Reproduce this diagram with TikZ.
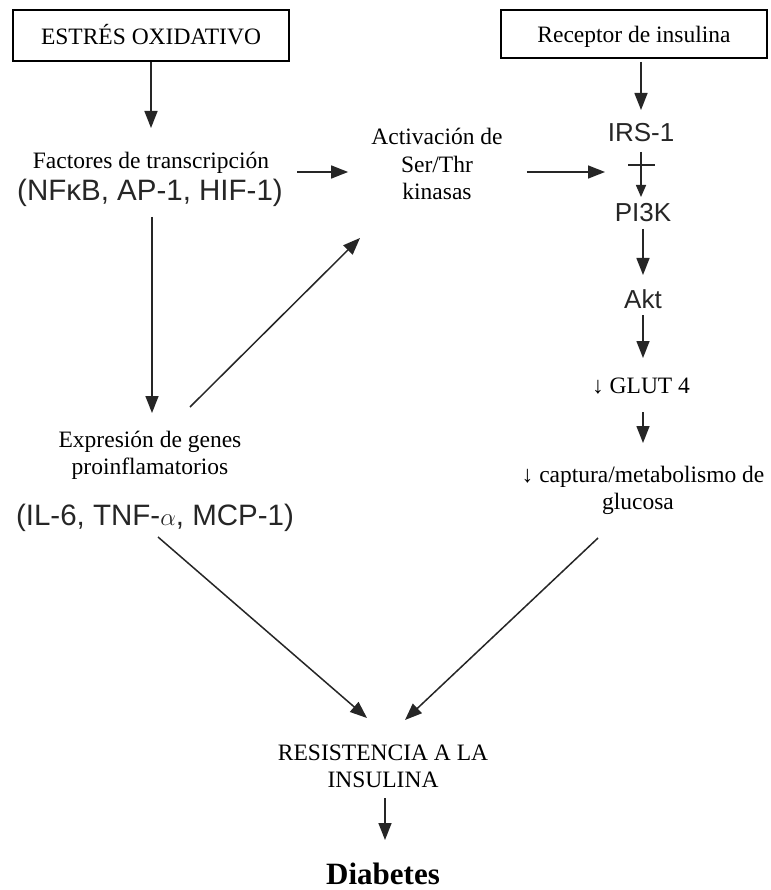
\documentclass[tikz,border=0pt]{standalone}
\usepackage{fontspec}
\setmainfont{Liberation Serif}
\newfontfamily\arialf{Liberation Sans}
\usetikzlibrary{arrows.meta,calc}
\begin{document}
\begin{tikzpicture}[x=1pt,y=-1pt,
  every node/.style={inner sep=0pt,outer sep=0pt},
  ser/.style={font=\fontsize{23.5}{28}\selectfont, text height=16pt, text depth=5pt, anchor=base},
  sansL/.style={font=\arialf\fontsize{29.5}{34}\selectfont, text=black!85, text height=21.5pt, text depth=6pt, anchor=base},
  sansR/.style={font=\arialf\fontsize{26}{30}\selectfont, text=black!85, text height=19pt, text depth=5pt, anchor=base},
  bold/.style={font=\fontsize{31}{36}\selectfont\bfseries, text height=21pt, text depth=0pt, anchor=base},
  bx/.style={draw=black, line width=1.5pt, font=\fontsize{23.5}{28}\selectfont},
  arr/.style={draw=black!85, line width=1.5pt, -{Triangle[length=17pt,width=13pt]}},
  arrs/.style={draw=black!85, line width=1.5pt, -{Triangle[length=12pt,width=10pt]}},
  bar/.style={draw=black!85, line width=1.5pt}
]
\useasboundingbox (0,0) rectangle (770,890);
\fill[white] (0,0) rectangle (770,890);

% boxes
\node[bx, minimum width=276pt, minimum height=51pt, text height=19pt, text depth=0pt] (estres) at (151,35.5) {ESTRÉS OXIDATIVO};
\node[bx, minimum width=266pt, minimum height=48pt, text height=18pt, text depth=0pt] (rec) at (634,34) {Receptor de insulina};

% left column
\node[ser] (fact) at (151,169) {Factores de transcripción};
\node[sansL] (nfkb) at (150,201) {(NFκB, AP-1, HIF-1)};
\node[ser] (exprA) at (150,447) {Expresión de genes};
\node[ser] (exprB) at (150,474) {proinflamatorios};
\node[sansL] (il6) at (155,525) {(IL-6, TNF-$\alpha$, MCP-1)};

% middle
\node[ser] (kinA) at (437,145) {Activación de};
\node[ser] (kinB) at (437,173) {Ser/Thr};
\node[ser] (kinC) at (437,200) {kinasas};

% right column
\node[sansR] (irs) at (641,142) {IRS-1};
\node[sansR] (pi3k) at (643,222) {PI3K};
\node[sansR] (akt) at (643,308) {Akt};
\node[ser] (glut) at (641,393) {↓ GLUT 4};
\node[ser] (capA) at (643,482) {↓ captura/metabolismo de};
\node[ser] (capB) at (638,509) {glucosa};

% bottom
\node[ser] (resA) at (383,760) {RESISTENCIA A LA};
\node[ser] (resB) at (383,787) {INSULINA};
\node[bold] (diab) at (383,884) {Diabetes};

% connectors
\draw[arr, shorten <=1pt, shorten >=25pt] (estres.south) -- (estres.south |- fact.north);
\draw[arr, shorten <=10pt, shorten >=18pt] ([xshift=2pt]nfkb.south) -- ([xshift=2pt]nfkb.south |- exprA.north);
\draw[arr] ([xshift=28pt,yshift=-8.5pt]fact.east) -- ([xshift=-53pt,yshift=-4.5pt]kinB.west);
\draw[arr] ([xshift=40pt,yshift=24pt]exprA.north) -- ([xshift=-77pt,yshift=-33pt]kinC.south);

\coordinate (inh) at (605,172);
\draw[arr] ([xshift=54pt,yshift=-4.5pt]kinB.east) -- (inh);

\draw[arr, shorten <=4pt, shorten >=13pt] (rec.south -| irs.north) -- (irs.north);
\draw[arrs, shorten <=5pt, shorten >=6pt] (irs.south) -- (irs.south |- pi3k.north);
\coordinate (barc) at ($(irs.south)!0.32!(irs.south |- pi3k.north)$);
\draw[bar] ([xshift=-13pt]barc) -- ([xshift=14pt]barc);
\draw[arr, shorten <=2pt, shorten >=14pt] (pi3k.south) -- (pi3k.south |- akt.north);
\draw[arr, shorten <=2pt, shorten >=19pt] (akt.south) -- (akt.south |- glut.north);
\draw[arr, shorten <=14pt, shorten >=23pt] (akt.south |- glut.south) -- (akt.south |- capA.north);

\draw[arr] ([xshift=-40pt,yshift=-24pt]capB.south) -- ([xshift=22pt,yshift=24pt]resA.north);
\draw[arr] ([xshift=3pt,yshift=-6pt]il6.south) -- ([xshift=-16pt,yshift=26pt]resA.north);
\draw[arr, shorten <=6pt, shorten >=23pt] ([xshift=2pt]resB.south) -- ([xshift=2pt]resB.south |- diab.north);
\end{tikzpicture}
\end{document}
